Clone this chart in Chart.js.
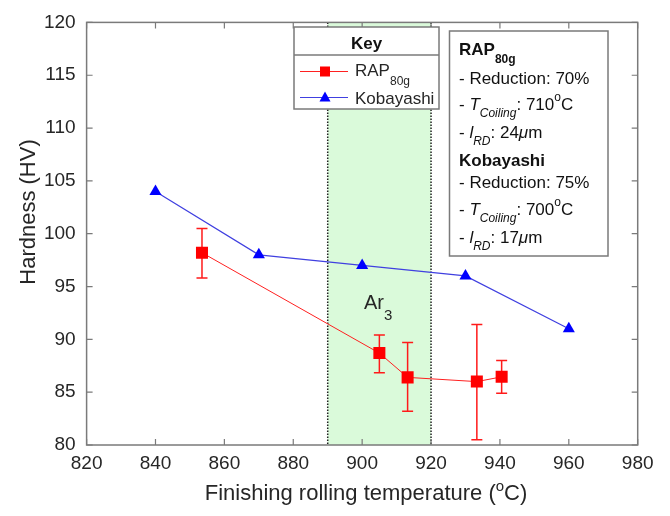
<!DOCTYPE html>
<html><head><meta charset="utf-8">
<script src="https://cdn.jsdelivr.net/npm/chart.js@4/dist/chart.umd.min.js"></script>
<style>html,body{margin:0;padding:0;background:#fff}</style>
</head><body>
<canvas id="c" width="670" height="516"></canvas>
<script>
// ---- data ----
const rapTemps    = [853.5, 905, 913.2, 933.3, 940.5];
const rapHardness = [98.2, 88.7, 86.4, 86.0, 86.45];
const rapErrLow   = [95.8, 86.85, 83.2, 80.5, 84.9];
const rapErrHigh  = [100.5, 90.4, 89.7, 91.4, 88.0];
const kobTemps    = [840, 870, 900, 930, 960];
const kobHardness = [104, 98, 97, 96, 91];
const ar3Range    = [890, 920];
const xRange      = [820, 980];
const yRange      = [80, 120];
const seriesNames = ['RAP', 'Kobayashi'];

const FONT = '"Liberation Sans", Arial, Helvetica, sans-serif';
const TXT = '#262626';
const AX = '#7a7a7a';

function runs(ctx, x, y, parts) {
  for (const p of parts) {
    ctx.font = (p.st || '') + ' ' + p.s + 'px ' + FONT;
    ctx.fillText(p.t, x, y + (p.dy || 0));
    x += ctx.measureText(p.t).width;
  }
  return x;
}

const deco = {
  id: 'deco',
  beforeDatasetsDraw(chart) {
    const {ctx, chartArea: a, scales: {x, y}} = chart;
    ctx.save();
    const x0 = x.getPixelForValue(ar3Range[0]), x1 = x.getPixelForValue(ar3Range[1]);
    ctx.fillStyle = '#dafada';
    ctx.fillRect(x0, a.top, x1 - x0, a.bottom - a.top);
    ctx.strokeStyle = '#222';
    ctx.lineWidth = 1.5;
    ctx.setLineDash([1.5, 1.5]);
    [x0, x1].forEach(px => { ctx.beginPath(); ctx.moveTo(px, a.top); ctx.lineTo(px, a.bottom); ctx.stroke(); });
    ctx.setLineDash([]);
    // Ar3 label
    ctx.fillStyle = TXT;
    ctx.textBaseline = 'alphabetic';
    ctx.textAlign = 'left';
    runs(ctx, 364, 309, [{t: 'Ar', s: 20}, {t: '3', s: 15, dy: 11}]);
    // error bars
    ctx.strokeStyle = '#ff1a1a';
    ctx.lineWidth = 1.5;
    rapTemps.forEach((t, i) => {
      const px = x.getPixelForValue(t), lo = y.getPixelForValue(rapErrLow[i]), hi = y.getPixelForValue(rapErrHigh[i]);
      ctx.beginPath();
      ctx.moveTo(px, lo); ctx.lineTo(px, hi);
      ctx.moveTo(px - 5.5, lo); ctx.lineTo(px + 5.5, lo);
      ctx.moveTo(px - 5.5, hi); ctx.lineTo(px + 5.5, hi);
      ctx.stroke();
    });
    ctx.restore();
  },
  afterDraw(chart) {
    const {ctx, chartArea: a, scales: {x, y}} = chart;
    ctx.save();
    // axes box
    ctx.strokeStyle = AX;
    ctx.lineWidth = 1.5;
    ctx.strokeRect(a.left, a.top, a.right - a.left, a.bottom - a.top);
    // inward ticks
    ctx.lineWidth = 1.2;
    ctx.beginPath();
    x.ticks.forEach(t => {
      const px = x.getPixelForValue(t.value);
      ctx.moveTo(px, a.bottom); ctx.lineTo(px, a.bottom - 6);
      ctx.moveTo(px, a.top); ctx.lineTo(px, a.top + 6);
    });
    y.ticks.forEach(t => {
      const py = y.getPixelForValue(t.value);
      ctx.moveTo(a.left, py); ctx.lineTo(a.left + 6, py);
      ctx.moveTo(a.right, py); ctx.lineTo(a.right - 6, py);
    });
    ctx.stroke();

    // axis titles
    ctx.fillStyle = TXT;
    ctx.textBaseline = 'alphabetic';
    ctx.textAlign = 'left';
    ctx.font = '22px ' + FONT;
    // x title with superscript
    const xParts = [{t: 'Finishing rolling temperature (', s: 22}, {t: 'o', s: 15, dy: -9}, {t: 'C)', s: 22}];
    let w = 0;
    xParts.forEach(p => { ctx.font = p.s + 'px ' + FONT; w += ctx.measureText(p.t).width; });
    runs(ctx, 366 - w / 2, 500, xParts);
    // y title
    ctx.save();
    ctx.translate(35, 212);
    ctx.rotate(-Math.PI / 2);
    ctx.font = '22px ' + FONT;
    ctx.textAlign = 'center';
    ctx.fillText('Hardness (HV)', 0, 0);
    ctx.restore();

    // legend box
    ctx.fillStyle = '#fff';
    ctx.fillRect(294, 27, 145, 82);
    ctx.strokeStyle = '#7a7a7a';
    ctx.lineWidth = 1.5;
    ctx.strokeRect(294, 27, 145, 82);
    ctx.beginPath(); ctx.moveTo(294, 55); ctx.lineTo(439, 55); ctx.stroke();
    ctx.fillStyle = '#111';
    ctx.textAlign = 'center';
    ctx.font = 'bold 17px ' + FONT;
    ctx.fillText('Key', 366.5, 49);
    ctx.textAlign = 'left';
    // RAP entry
    ctx.strokeStyle = '#ff2020'; ctx.lineWidth = 1;
    ctx.beginPath(); ctx.moveTo(300, 71.5); ctx.lineTo(348, 71.5); ctx.stroke();
    ctx.fillStyle = '#ff0000';
    ctx.fillRect(320, 66.5, 10, 10);
    ctx.fillStyle = TXT;
    runs(ctx, 355, 75.5, [{t: seriesNames[0], s: 17}, {t: '80g', s: 12, dy: 9}]);
    // Kobayashi entry
    ctx.strokeStyle = '#4040e0'; ctx.lineWidth = 1;
    ctx.beginPath(); ctx.moveTo(300, 97.5); ctx.lineTo(348, 97.5); ctx.stroke();
    ctx.fillStyle = '#0000ff';
    ctx.beginPath(); ctx.moveTo(325, 91.5); ctx.lineTo(330.5, 101.5); ctx.lineTo(319.5, 101.5); ctx.closePath(); ctx.fill();
    ctx.fillStyle = TXT;
    runs(ctx, 355, 103.5, [{t: seriesNames[1], s: 17}]);

    // annotation box
    ctx.fillStyle = '#fff';
    ctx.fillRect(449.5, 31, 158.5, 225);
    ctx.strokeStyle = '#7a7a7a'; ctx.lineWidth = 1.5;
    ctx.strokeRect(449.5, 31, 158.5, 225);
    ctx.fillStyle = '#111';
    const X0 = 459;
    runs(ctx, X0, 54.5, [{t: 'RAP', s: 17, st: 'bold'}, {t: '80g', s: 12, st: 'bold', dy: 8}]);
    runs(ctx, X0, 83.5, [{t: '- Reduction: 70%', s: 17}]);
    runs(ctx, X0, 109.5, [{t: '- ', s: 17}, {t: 'T', s: 17, st: 'italic'}, {t: 'Coiling', s: 12, st: 'italic', dy: 7.5}, {t: ': 710', s: 17}, {t: 'o', s: 12, dy: -9}, {t: 'C', s: 17}]);
    runs(ctx, X0, 137.5, [{t: '- ', s: 17}, {t: 'l', s: 17, st: 'italic'}, {t: 'RD', s: 12, st: 'italic', dy: 7}, {t: ': 24', s: 17}, {t: 'μ', s: 17, st: 'italic'}, {t: 'm', s: 17}]);
    runs(ctx, X0, 166, [{t: 'Kobayashi', s: 17, st: 'bold'}]);
    runs(ctx, X0, 188, [{t: '- Reduction: 75%', s: 17}]);
    runs(ctx, X0, 214.5, [{t: '- ', s: 17}, {t: 'T', s: 17, st: 'italic'}, {t: 'Coiling', s: 12, st: 'italic', dy: 7.5}, {t: ': 700', s: 17}, {t: 'o', s: 12, dy: -9}, {t: 'C', s: 17}]);
    runs(ctx, X0, 243, [{t: '- ', s: 17}, {t: 'l', s: 17, st: 'italic'}, {t: 'RD', s: 12, st: 'italic', dy: 7}, {t: ': 17', s: 17}, {t: 'μ', s: 17, st: 'italic'}, {t: 'm', s: 17}]);
    ctx.restore();
  }
};

new Chart(document.getElementById('c'), {
  type: 'scatter',
  data: {
    datasets: [
      {
        label: seriesNames[0],
        data: rapTemps.map((t, i) => ({x: t, y: rapHardness[i]})),
        showLine: true,
        borderColor: '#ff2020',
        borderWidth: 1,
        pointStyle: 'rect',
        pointRadius: 8.5,
        pointBackgroundColor: '#ff0000',
        pointBorderWidth: 0,
        pointBorderColor: '#ff0000'
      },
      {
        label: seriesNames[1],
        data: kobTemps.map((t, i) => ({x: t, y: kobHardness[i]})),
        showLine: true,
        borderColor: '#4040e0',
        borderWidth: 1.2,
        pointStyle: 'triangle',
        pointRadius: 7,
        pointBackgroundColor: '#0000ff',
        pointBorderWidth: 0,
        pointBorderColor: '#0000ff'
      }
    ]
  },
  options: {
    responsive: false,
    animation: false,
    devicePixelRatio: 1,
    layout: {padding: {top: 17, right: 32.3, bottom: 0, left: 0}},
    plugins: {legend: {display: false}, tooltip: {enabled: false}},
    scales: {
      x: {
        type: 'linear', min: xRange[0], max: xRange[1],
        ticks: {stepSize: 20, color: TXT, font: {family: FONT, size: 19}, padding: 7, maxRotation: 0, autoSkip: false},
        grid: {display: false, drawTicks: false},
        border: {display: false},
        afterFit(s) { s.height = 71; }
      },
      y: {
        type: 'linear', min: yRange[0], max: yRange[1],
        ticks: {stepSize: 5, color: TXT, font: {family: FONT, size: 19}, padding: 11},
        grid: {display: false, drawTicks: false},
        border: {display: false},
        afterFit(s) { s.width = 86.6; }
      }
    }
  },
  plugins: [deco]
});
</script>
</body></html>
